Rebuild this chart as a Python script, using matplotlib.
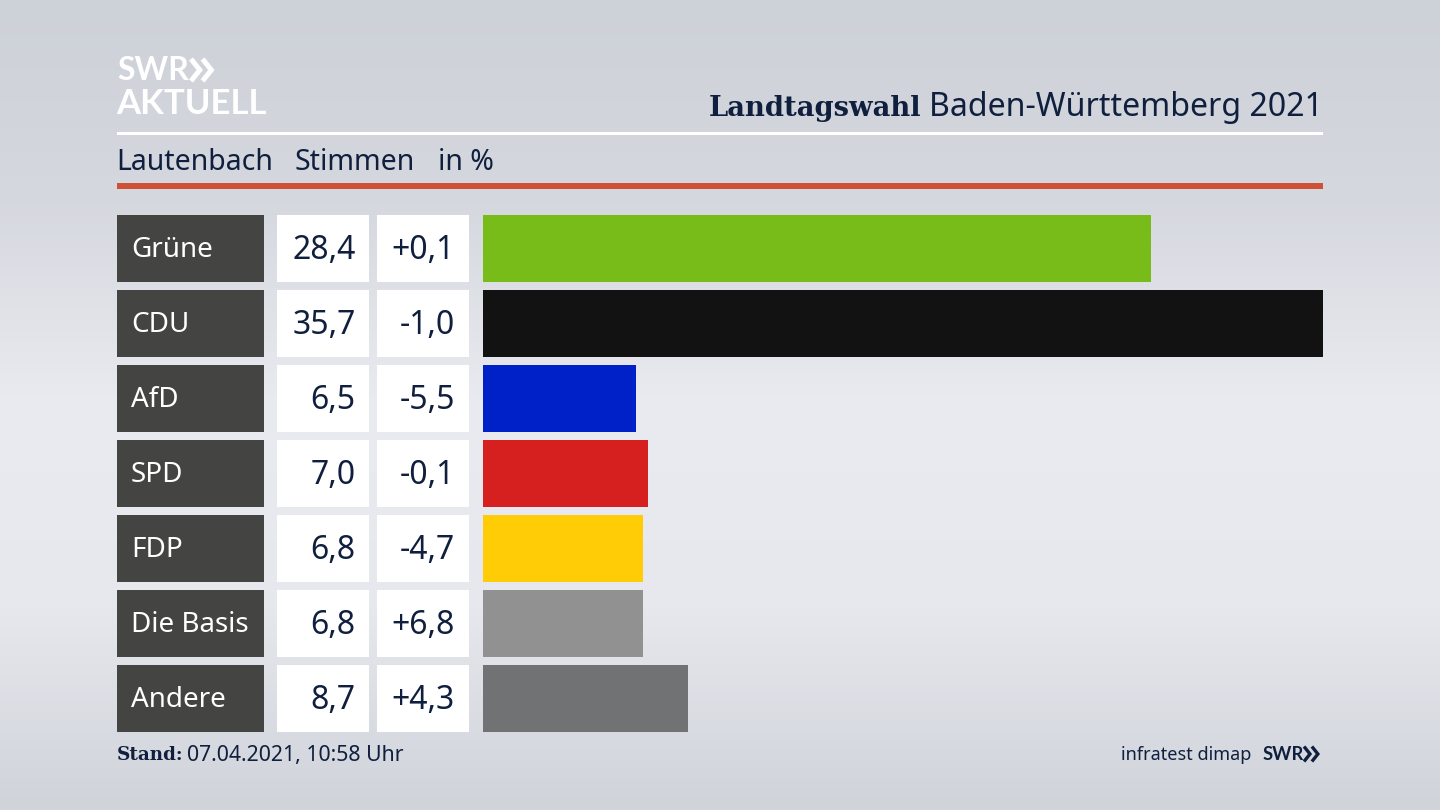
import matplotlib
matplotlib.use("Agg")
import matplotlib.pyplot as plt
import numpy as np
from matplotlib.colors import LinearSegmentedColormap
from matplotlib.patches import Rectangle

PARTIES = ["Grüne", "CDU", "AfD", "SPD", "FDP", "Die Basis", "Andere"]
SHARES = [28.4, 35.7, 6.5, 7.0, 6.8, 6.8, 8.7]
SHARE_LABELS = ["28,4", "35,7", "6,5", "7,0", "6,8", "6,8", "8,7"]
CHANGE_LABELS = ["+0,1", "-1,0", "-5,5", "-0,1", "-4,7", "+6,8", "+4,3"]
COLORS = ["#78bc1a", "#121212", "#0021c8", "#d61f1f", "#ffcc06", "#919191", "#717273"]

NAVY = "#0f1f3d"
FONT = ["Noto Sans", "DejaVu Sans"]
BOLD_SANS = ["Lato", "DejaVu Sans"]
BOLD_SLAB = ["DejaVu Serif"]
W, H = 1440, 810
ROW_TOP, ROW_H, ROW_STEP = 215, 66.5, 75

plt.rcParams["font.family"] = FONT


def draw_chevrons(ax, x, y, size, color, width):
    for dx in (0, size * 1.05):
        ax.plot([x + dx, x + dx + size * 0.8, x + dx], [y - size, y, y + size],
                color=color, lw=width, solid_joinstyle="miter", solid_capstyle="butt")


def box(ax, x, y, w, h, color):
    ax.add_patch(Rectangle((x, y), w, h, facecolor=color, edgecolor="none", lw=0, zorder=2))


fig = plt.figure(figsize=(14.4, 8.1), dpi=100)

# background and everything that is not a bar, in pixel coordinates
page = fig.add_axes([0, 0, 1, 1])
page.set_xlim(0, W)
page.set_ylim(H, 0)
page.axis("off")
cmap = LinearSegmentedColormap.from_list("bg", ["#cdd1d8", "#d5d8de", "#e9ebf0", "#e6e8ed", "#d0d3da"])
grad = np.linspace(0, 1, 256).reshape(-1, 1)
page.imshow(grad, extent=[0, W, H, 0], cmap=cmap, aspect="auto", zorder=0)

# logo
page.text(117, 70, "SWR", color="white", fontsize=23, fontweight="bold", family=BOLD_SANS, va="center", ha="left")
draw_chevrons(page, 191, 70, 11, "white", 3.6)
page.text(116, 104, "AKTUELL", color="white", fontsize=25, fontweight="bold", family=BOLD_SANS, va="center", ha="left")

# header
page.text(709, 108, "Landtagswahl", color=NAVY, fontsize=19.7, fontweight="bold", family=BOLD_SLAB,
          va="center", ha="left")
page.text(1323, 108, "Baden-Württemberg 2021", color=NAVY, fontsize=23.1, va="center", ha="right")
box(page, 117, 132, 1206, 3, "white")
for x, label in zip([116.5, 294, 438], ["Lautenbach", "Stimmen", "in %"]):
    page.text(x, 162, label, color=NAVY, fontsize=20.5, va="center", ha="left")
box(page, 117, 183, 1206, 6, "#cf5236")

# table cells left of the bars
for i, (party, share, change) in enumerate(zip(PARTIES, SHARE_LABELS, CHANGE_LABELS)):
    top = ROW_TOP + i * ROW_STEP
    mid = top + ROW_H / 2
    box(page, 117, top, 147, ROW_H, "#444442")
    box(page, 277, top, 92, ROW_H, "white")
    box(page, 377, top, 92, ROW_H, "white")
    page.text(131, mid + 2, party, color="white", fontsize=20, va="center", ha="left", zorder=3)
    page.text(355.5, mid + 2, share, color=NAVY, fontsize=23, va="center", ha="right", zorder=3)
    page.text(455, mid + 2, change, color=NAVY, fontsize=23, va="center", ha="right", zorder=3)

# footer
page.text(117, 755, "Stand:", color=NAVY, fontsize=13.2, fontweight="bold", family=BOLD_SLAB, va="center", ha="left")
page.text(187, 756, "07.04.2021, 10:58 Uhr", color=NAVY, fontsize=15.3, va="center", ha="left")
page.text(1251, 755, "infratest dimap", color=NAVY, fontsize=13, va="center", ha="right")
page.text(1263, 754, "SWR", color=NAVY, fontsize=13.2, fontweight="bold", family=BOLD_SANS, va="center", ha="left")
draw_chevrons(page, 1304, 754, 7.5, NAVY, 2.4)

# bars: x axis runs from 0 to the largest share
bar_left, bar_right = 483, 1323
plot_top, plot_bottom = ROW_TOP - (ROW_STEP - ROW_H) / 2, ROW_TOP + 7 * ROW_STEP - (ROW_STEP - ROW_H) / 2
bars = fig.add_axes([bar_left / W, 1 - plot_bottom / H, (bar_right - bar_left) / W, (plot_bottom - plot_top) / H])
bars.patch.set_alpha(0)
bars.barh(np.arange(len(PARTIES)), SHARES, height=ROW_H / ROW_STEP, color=COLORS)
bars.set_xlim(0, max(SHARES))
bars.set_ylim(len(PARTIES) - 0.5, -0.5)
bars.axis("off")

fig.savefig("out.png", dpi=100)
plt.close(fig)
